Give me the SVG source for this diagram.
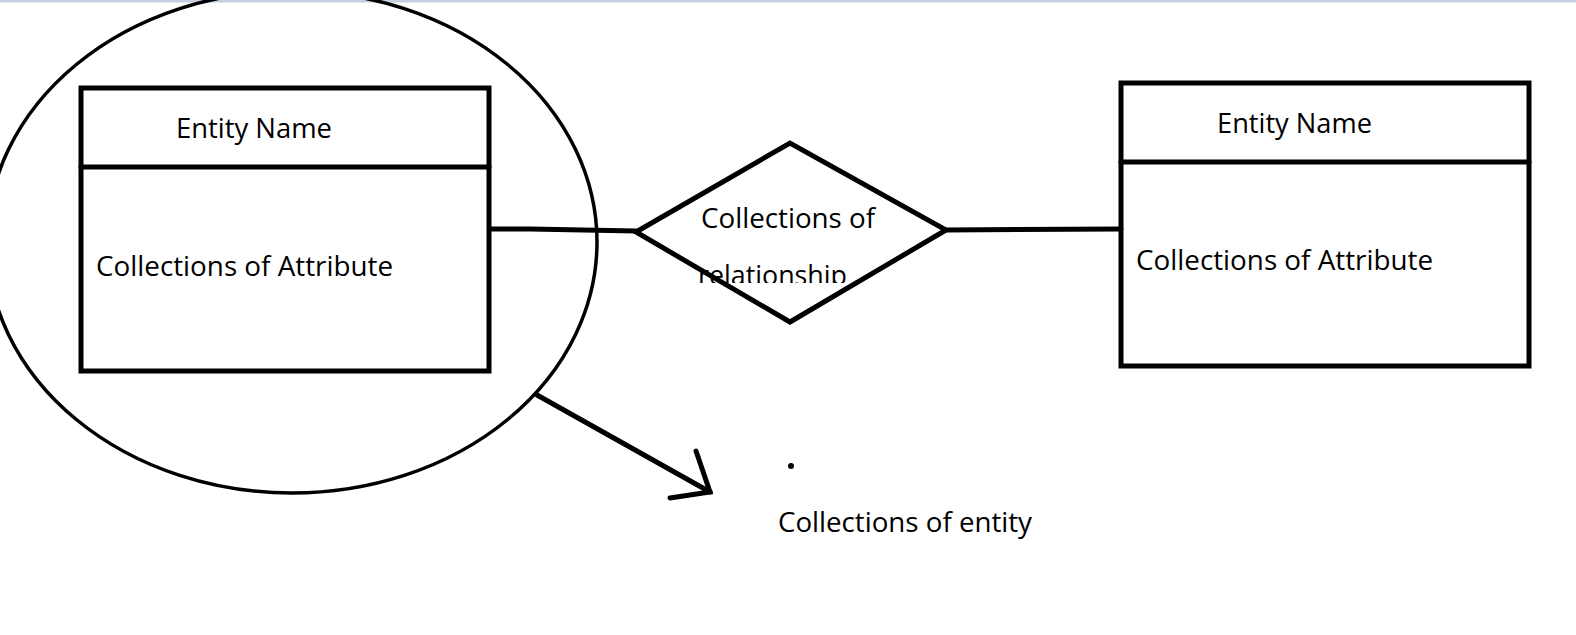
<svg xmlns="http://www.w3.org/2000/svg" width="1576" height="635" viewBox="0 0 1576 635">
<style>
.line{fill:none;stroke:#000;stroke-width:5;stroke-linecap:round;stroke-linejoin:miter}
.thin{fill:none;stroke:#000;stroke-width:3.5}
.t{font-family:"Open Sans","Noto Sans","DejaVu Sans",sans-serif;font-size:27.5px;fill:#000}
</style>
<defs>
<clipPath id="relClip"><rect x="680" y="240" width="200" height="43"/></clipPath>
</defs>
<rect x="0" y="0" width="1576" height="635" fill="#fff"/>
<rect x="0" y="0" width="1576" height="2.5" fill="#c5cfe0"/>
<g id="collection-ellipse">
<ellipse class="thin" cx="292" cy="242" rx="305" ry="251"/>
</g>
<g id="entity-left">
<rect class="line" x="81" y="88" width="408" height="283"/>
<line class="line" x1="81" y1="167" x2="489" y2="167"/>
<text class="t" x="176" y="138" textLength="156" lengthAdjust="spacingAndGlyphs">Entity Name</text>
<text class="t" x="96" y="276" textLength="297" lengthAdjust="spacingAndGlyphs">Collections of Attribute</text>
</g>
<g id="relationship">
<text class="t" x="701" y="228" textLength="174" lengthAdjust="spacingAndGlyphs">Collections of</text>
<g clip-path="url(#relClip)">
<text class="t" x="698" y="285" textLength="149" lengthAdjust="spacingAndGlyphs">relationship</text>
</g>
<polygon class="line" points="636,232 790,143 946,230 790,322"/>
</g>
<g id="entity-right">
<rect class="line" x="1121" y="83" width="408" height="283"/>
<line class="line" x1="1121" y1="162" x2="1529" y2="162"/>
<text class="t" x="1217" y="133" textLength="155" lengthAdjust="spacingAndGlyphs">Entity Name</text>
<text class="t" x="1136" y="270" textLength="297" lengthAdjust="spacingAndGlyphs">Collections of Attribute</text>
</g>
<g id="connectors">
<polyline class="line" points="491,229 530,229 636,231"/>
<line class="line" x1="946" y1="230" x2="1121" y2="229"/>
<line class="line" x1="537" y1="395" x2="710" y2="492"/>
<polyline class="line" points="696,451 710,492 670,498"/>
</g>
<g id="label-entity">
<circle cx="791" cy="466" r="3" fill="#000"/>
<text class="t" x="778" y="532" textLength="254" lengthAdjust="spacingAndGlyphs">Collections of entity</text>
</g>
</svg>
